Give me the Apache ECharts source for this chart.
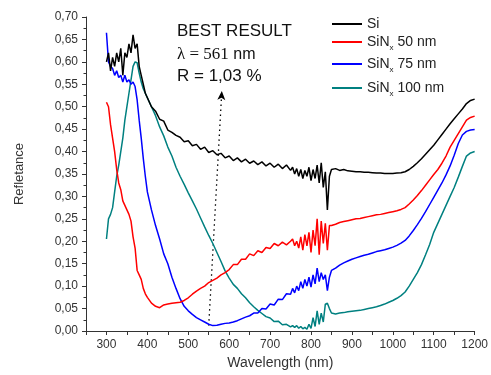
<!DOCTYPE html>
<html>
<head>
<meta charset="utf-8">
<script src="https://cdn.jsdelivr.net/npm/echarts@6/dist/echarts.min.js"></script>
<style>html,body{margin:0;padding:0;background:#fff}#c{width:491px;height:375px}</style>
</head>
<body>
<div id="c"></div>
<script>
const wavelengths = [300,305,310,315,320,325,330,335,340,345,350,355,360,365,370,375,380,385,390,395,400,
410,420,430,440,450,460,470,480,490,500,510,520,530,540,550,560,570,580,590,600,610,620,630,640,650,660,670,680,690,700,710,720,730,740,750,
755,760,765,770,775,780,785,790,795,800,805,810,815,820,825,830,835,840,845,850,
860,870,880,890,900,910,920,930,940,950,960,970,980,990,1000,1010,1020,1030,1040,1050,1060,1070,1080,1090,1100,1110,1120,1130,1140,1150,1160,1170,1180,1190,1200];

const si = [0.60,0.62,0.58,0.61,0.59,0.62,0.60,0.63,0.57,0.62,0.61,0.64,0.62,0.66,0.63,0.64,0.59,0.57,0.55,0.53,0.52,
0.50,0.49,0.472,0.468,0.448,0.443,0.436,0.432,0.422,0.424,0.413,0.416,0.405,0.41,0.398,0.402,0.393,0.396,0.386,0.39,0.38,0.386,0.377,0.383,0.374,0.379,0.371,0.377,0.368,0.374,0.365,0.372,0.362,0.37,0.358,
0.365,0.35,0.362,0.345,0.36,0.34,0.358,0.345,0.365,0.335,0.36,0.34,0.37,0.33,0.375,0.32,0.355,0.27,0.345,0.36,
0.362,0.358,0.36,0.357,0.356,0.355,0.355,0.354,0.354,0.353,0.352,0.352,0.351,0.351,0.351,0.352,0.353,0.355,0.36,0.367,0.375,0.384,0.394,0.404,0.414,0.426,0.438,0.45,0.462,0.473,0.484,0.495,0.507,0.514,0.517];

const sin50 = [0.51,0.50,0.46,0.43,0.40,0.36,0.33,0.315,0.29,0.28,0.27,0.26,0.245,0.21,0.185,0.135,0.125,0.115,0.095,0.083,0.075,
0.062,0.055,0.052,0.058,0.06,0.062,0.063,0.064,0.068,0.074,0.082,0.089,0.095,0.10,0.108,0.113,0.118,0.125,0.13,0.137,0.148,0.148,0.16,0.16,0.172,0.168,0.179,0.175,0.186,0.184,0.195,0.19,0.198,0.192,0.20,
0.205,0.19,0.20,0.185,0.21,0.18,0.215,0.19,0.22,0.175,0.225,0.19,0.25,0.17,0.245,0.195,0.24,0.18,0.235,0.235,
0.238,0.242,0.244,0.246,0.248,0.25,0.251,0.253,0.255,0.257,0.259,0.26,0.262,0.264,0.266,0.268,0.271,0.275,0.283,0.292,0.302,0.313,0.325,0.337,0.349,0.36,0.374,0.39,0.41,0.425,0.44,0.455,0.47,0.476,0.479];

const sin75 = [0.665,0.60,0.59,0.585,0.57,0.58,0.565,0.57,0.555,0.57,0.555,0.56,0.55,0.555,0.545,0.515,0.47,0.43,0.385,0.345,0.31,
0.27,0.235,0.205,0.172,0.15,0.12,0.095,0.072,0.055,0.045,0.037,0.03,0.025,0.02,0.015,0.012,0.013,0.015,0.017,0.018,0.02,0.023,0.027,0.031,0.034,0.04,0.04,0.05,0.049,0.06,0.058,0.071,0.07,0.083,0.082,
0.095,0.085,0.10,0.09,0.11,0.095,0.115,0.10,0.12,0.098,0.125,0.105,0.14,0.11,0.13,0.115,0.125,0.09,0.12,0.135,
0.14,0.147,0.152,0.156,0.16,0.163,0.166,0.169,0.171,0.174,0.177,0.179,0.181,0.184,0.187,0.191,0.196,0.202,0.212,0.224,0.237,0.251,0.266,0.282,0.298,0.314,0.33,0.348,0.368,0.392,0.418,0.437,0.445,0.448,0.449];

const sin100 = [0.205,0.25,0.26,0.275,0.31,0.345,0.37,0.40,0.43,0.47,0.50,0.53,0.56,0.59,0.60,0.598,0.575,0.555,0.54,0.53,0.52,
0.50,0.48,0.455,0.435,0.41,0.39,0.365,0.345,0.327,0.308,0.29,0.272,0.252,0.232,0.213,0.195,0.175,0.155,0.134,0.118,0.104,0.095,0.083,0.074,0.063,0.054,0.046,0.039,0.032,0.029,0.021,0.022,0.014,0.015,0.009,
0.012,0.008,0.012,0.006,0.01,0.005,0.008,0.004,0.015,0.006,0.03,0.01,0.045,0.015,0.04,0.02,0.06,0.062,0.05,0.04,
0.038,0.04,0.041,0.043,0.044,0.045,0.046,0.048,0.05,0.052,0.054,0.057,0.06,0.064,0.068,0.073,0.079,0.087,0.10,0.115,0.13,0.148,0.17,0.193,0.22,0.24,0.26,0.28,0.30,0.32,0.343,0.367,0.39,0.397,0.40];

const seriesNames = ['Si','SiNx 50 nm','SiNx 75 nm','SiNx 100 nm'];
const seriesColors = ['#000000','#ff0000','#0000ff','#008080'];
const seriesValues = [si, sin50, sin75, sin100];
const arrowFrom = [550, 0.012];
const arrowTo = [582, 0.535];

const FONT = "'Liberation Sans', Arial, sans-serif";
const chart = echarts.init(document.getElementById('c'));

const legendTops = [12, 27, 49, 73];
const legends = seriesNames.map((n, i) => ({
  data: [n],
  orient: 'vertical',
  left: 327,
  top: legendTops[i],
  itemWidth: 30,
  itemHeight: 14,
  itemGap: 0,
  icon: 'path://M0,6 L30,6 L30,8 L0,8 Z',
  formatter: function (name) {
    if (name.indexOf('SiNx') === 0) {
      return '{a|SiN}{s|x}{a|' + name.slice(4) + '}';
    }
    return '{a|' + name + '}';
  },
  textStyle: {
    fontFamily: FONT, fontSize: 14, color: '#222',
    rich: {
      a: { fontFamily: FONT, fontSize: 14, color: '#222', lineHeight: 16 },
      s: { fontFamily: FONT, fontSize: 8, color: '#222', lineHeight: 8, padding: [12, 0, 0, 0] }
    }
  }
}));

const series = seriesNames.map((n, i) => {
  const s = {
    name: n,
    type: 'line',
    data: wavelengths.map((w, j) => [w, seriesValues[i][j]]),
    showSymbol: false,
    symbol: 'none',
    lineStyle: { color: seriesColors[i], width: 1.5 },
    itemStyle: { color: seriesColors[i] },
    animation: false,
    z: 10 - i
  };
  if (i === 0) {
    s.markLine = {
      silent: true,
      symbol: ['none', 'arrow'],
      symbolSize: [6, 9],
      label: { show: false },
      lineStyle: { color: '#000', width: 1.3, type: [1.5, 3.5] },
      data: [[{ coord: arrowFrom }, { coord: arrowTo }]],
      animation: false
    };
  }
  return s;
});

chart.setOption({
  animation: false,
  backgroundColor: '#fff',
  grid: { left: 86, right: 14, top: 17, bottom: 39 },
  legend: legends,
  xAxis: {
    type: 'value', min: 250, max: 1200, interval: 50,
    name: 'Wavelength (nm)', nameLocation: 'middle', nameGap: 25,
    nameTextStyle: { fontFamily: FONT, fontSize: 14, color: '#333' },
    axisLine: { show: true, lineStyle: { color: '#333', width: 1 } },
    axisTick: { show: true, length: 4, lineStyle: { color: '#333' } },
    axisLabel: {
      fontFamily: FONT, fontSize: 12, color: '#333', margin: 8,
      formatter: v => (v % 100 === 0 && v >= 300) ? String(v) : ''
    },
    splitLine: { show: false }
  },
  yAxis: {
    type: 'value', min: 0, max: 0.7, interval: 0.05,
    name: 'Refletance', nameLocation: 'middle', nameGap: 60,
    nameTextStyle: { fontFamily: FONT, fontSize: 13, color: '#333' },
    axisLine: { show: true, lineStyle: { color: '#333', width: 1 } },
    axisTick: { show: true, length: 4, lineStyle: { color: '#333' } },
    minorTick: { show: true, splitNumber: 2, length: 2.5, lineStyle: { color: '#333' } },
    axisLabel: {
      fontFamily: FONT, fontSize: 12, color: '#333', margin: 8,
      formatter: v => v.toFixed(2).replace('.', ',')
    },
    splitLine: { show: false }
  },
  graphic: [
    { type: 'text', left: 177, top: 23, style: { text: 'BEST RESULT', font: "17px 'Liberation Sans', Arial", fill: '#111' } },
    { type: 'text', left: 177, top: 46, style: {
        text: '{g|λ = 561}{n| nm}', fill: '#111',
        rich: { g: { fontFamily: 'Liberation Serif, DejaVu Serif, serif', fontSize: 17, fill: '#111' },
                n: { fontFamily: 'Liberation Sans, Arial, sans-serif', fontSize: 16, fill: '#111' } } } },
    { type: 'text', left: 177, top: 68, style: { text: 'R = 1,03 %', font: "17px 'Liberation Sans', Arial", fill: '#111' } }
  ],
  series: series
});
</script>
</body>
</html>
